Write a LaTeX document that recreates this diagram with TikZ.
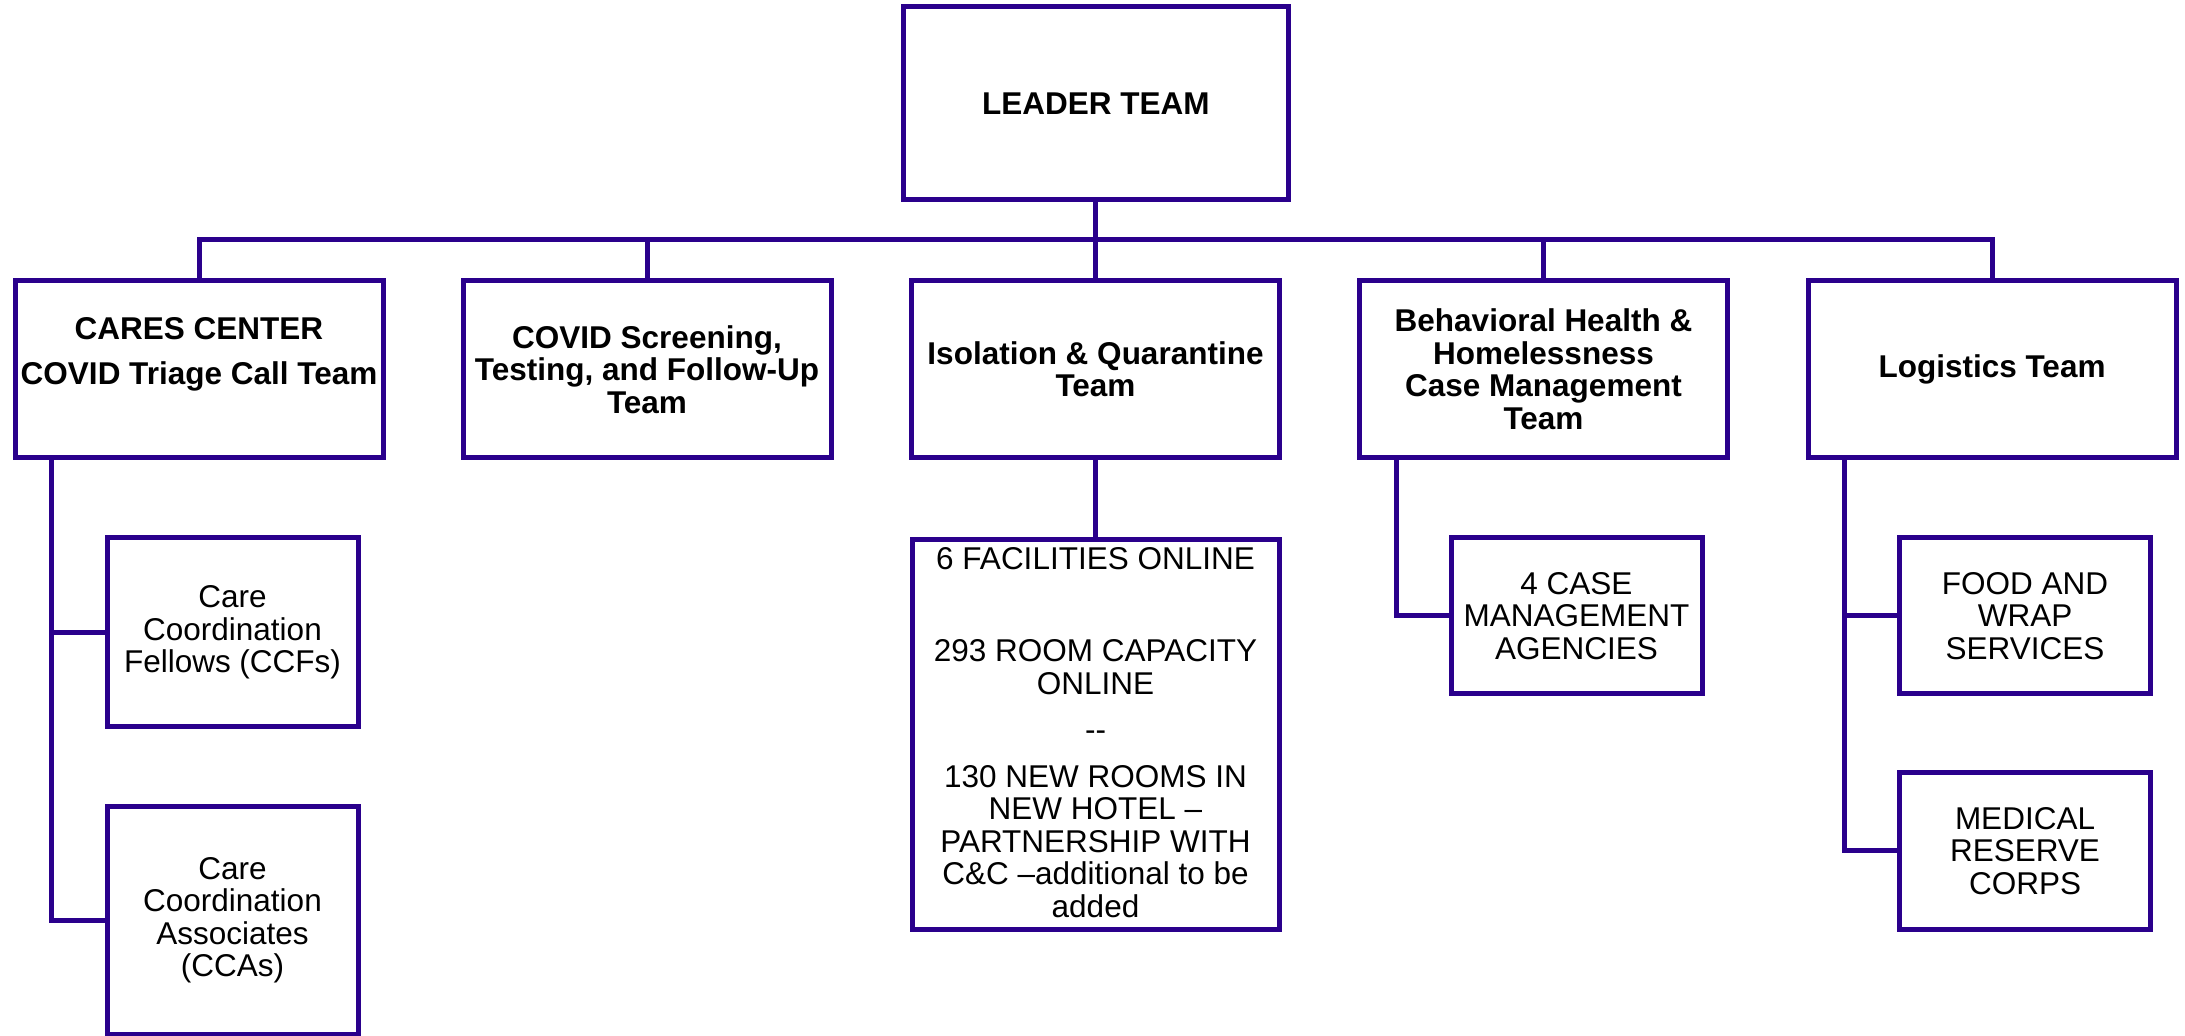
\documentclass[tikz,border=0pt]{standalone}
\usepackage{fontspec}
\setmainfont{Liberation Sans}
\definecolor{ind}{RGB}{42,0,140}
\begin{document}
\begin{tikzpicture}[x=0.5pt,y=-0.5pt,
  txtfont/.style={font=\fontsize{15.75}{16.25}\selectfont},
  boldfont/.style={font=\fontsize{15.75}{16.25}\selectfont\bfseries},
  box/.style={draw=ind, line width=2.5pt, fill=white, inner sep=0pt, align=center, txtfont},
  headbox/.style={box, boldfont, minimum width=184pt, minimum height=88.6pt},
  leafbox/.style={box, minimum width=125.5pt},
  txt/.style={inner sep=0pt, align=center},
  conn/.style={draw=ind, line width=2.5pt}]
\clip (0,0) rectangle (2185,1036);
\fill[white] (0,0) rectangle (2185,1036);

% top
\node[box, boldfont, minimum width=192.8pt, minimum height=96.7pt] (lead) at (1095.8,103.3) {LEADER TEAM};

% level 2
\node[headbox] (cares) at (199,369.4) {};
\node[txt, boldfont] (caresT) at (199,354) {CARES CENTER\\[6.25pt]COVID Triage Call Team};
\node[headbox] (covid) at (647,369.4) {COVID Screening,\\Testing, and Follow-Up\\Team};
\node[headbox] (iso) at (1095.5,369.4) {Isolation \& Quarantine\\Team};
\node[headbox] (beh) at (1543.5,369.4) {Behavioral Health \&\\Homelessness\\Case Management\\Team};
\node[headbox] (log) at (1992,369.4) {Logistics Team};

% leaves
\node[leafbox, minimum height=94.5pt] (ccf) at (232.5,632.5) {Care\\Coordination\\Fellows (CCFs)};
\node[leafbox, minimum height=113.5pt] (cca) at (232.5,920.5) {Care\\Coordination\\Associates\\(CCAs)};
\node[box, minimum width=183.5pt, minimum height=195.2pt] (iso2) at (1095.5,734.3) {};
\node[txt, txtfont, anchor=north] (iso2T) at (1095.5,547) {6 FACILITIES ONLINE\\[30pt]293 ROOM CAPACITY\\ONLINE\\[7pt]{-}{-}\\[7pt]130 NEW ROOMS IN\\NEW HOTEL –\\PARTNERSHIP WITH\\C\&C –additional to be\\added};
\node[leafbox, minimum height=78pt] (cm) at (1576.5,616) {4 CASE\\MANAGEMENT\\AGENCIES};
\node[leafbox, minimum height=78pt] (food) at (2025,616) {FOOD AND\\WRAP\\SERVICES};
\node[leafbox, minimum height=78pt] (med) at (2025,851) {MEDICAL\\RESERVE\\CORPS};

% connectors
\coordinate (bus) at (1095.8,240);
\draw[conn] (lead.south) -- (bus);
\draw[conn] (cares.north) |- (bus) -| (log.north);
\draw[conn] (covid.north) -- (covid.north |- bus);
\draw[conn] (iso.north) -- (iso.north |- bus);
\draw[conn] (beh.north) -- (beh.north |- bus);

\coordinate (ctx) at (51,0);
\draw[conn] (cares.south -| ctx) |- (ccf.west);
\draw[conn] (cares.south -| ctx) |- (cca.west);

\draw[conn] (iso.south) -- (iso2.north);

\coordinate (btx) at (1396,0);
\draw[conn] (beh.south -| btx) |- (cm.west);

\coordinate (ltx) at (1844,0);
\draw[conn] (log.south -| ltx) |- (food.west);
\draw[conn] (log.south -| ltx) |- (med.west);
\end{tikzpicture}
\end{document}
